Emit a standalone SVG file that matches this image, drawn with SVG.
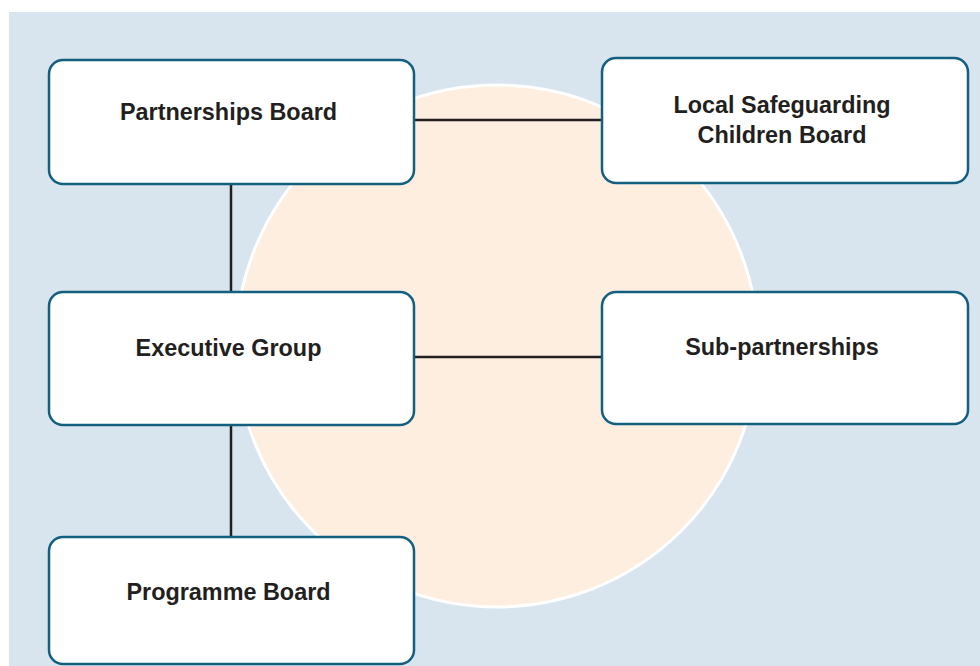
<svg xmlns="http://www.w3.org/2000/svg" width="980" height="666" viewBox="0 0 980 666">
<style>
.box{fill:#ffffff;stroke:#135f80;stroke-width:2.5}
.lbl{font-family:"Liberation Sans",Arial,sans-serif;font-weight:bold;font-size:23.4px;fill:#231f20;text-anchor:middle}
.conn{stroke:#231f20;stroke-width:2.5;fill:none}
</style>
<rect x="0" y="0" width="980" height="666" fill="#ffffff"/>
<rect x="9" y="12" width="971" height="654" fill="#d8e4ee"/>
<circle cx="497" cy="346" r="261" fill="#fdeee0" stroke="#ffffff" stroke-width="3"/>
<g id="connectors">
<line class="conn" x1="231" y1="184" x2="231" y2="292"/>
<line class="conn" x1="231" y1="425" x2="231" y2="537"/>
<line class="conn" x1="414" y1="120" x2="602" y2="120"/>
<line class="conn" x1="414" y1="357" x2="602" y2="357"/>
</g>
<g id="partnerships-board">
<rect class="box" x="49" y="60" width="365" height="124" rx="14"/>
<text class="lbl" x="228.5" y="120">Partnerships Board</text>
</g>
<g id="lscb">
<rect class="box" x="602" y="58" width="366" height="125" rx="14"/>
<text class="lbl" x="782" y="113">Local Safeguarding</text>
<text class="lbl" x="782" y="143">Children Board</text>
</g>
<g id="executive-group">
<rect class="box" x="49" y="292" width="365" height="133" rx="14"/>
<text class="lbl" x="228.5" y="356">Executive Group</text>
</g>
<g id="sub-partnerships">
<rect class="box" x="602" y="292" width="366" height="132" rx="14"/>
<text class="lbl" x="782" y="355">Sub-partnerships</text>
</g>
<g id="programme-board">
<rect class="box" x="49" y="537" width="365" height="127" rx="14"/>
<text class="lbl" x="228.5" y="600">Programme Board</text>
</g>
</svg>
